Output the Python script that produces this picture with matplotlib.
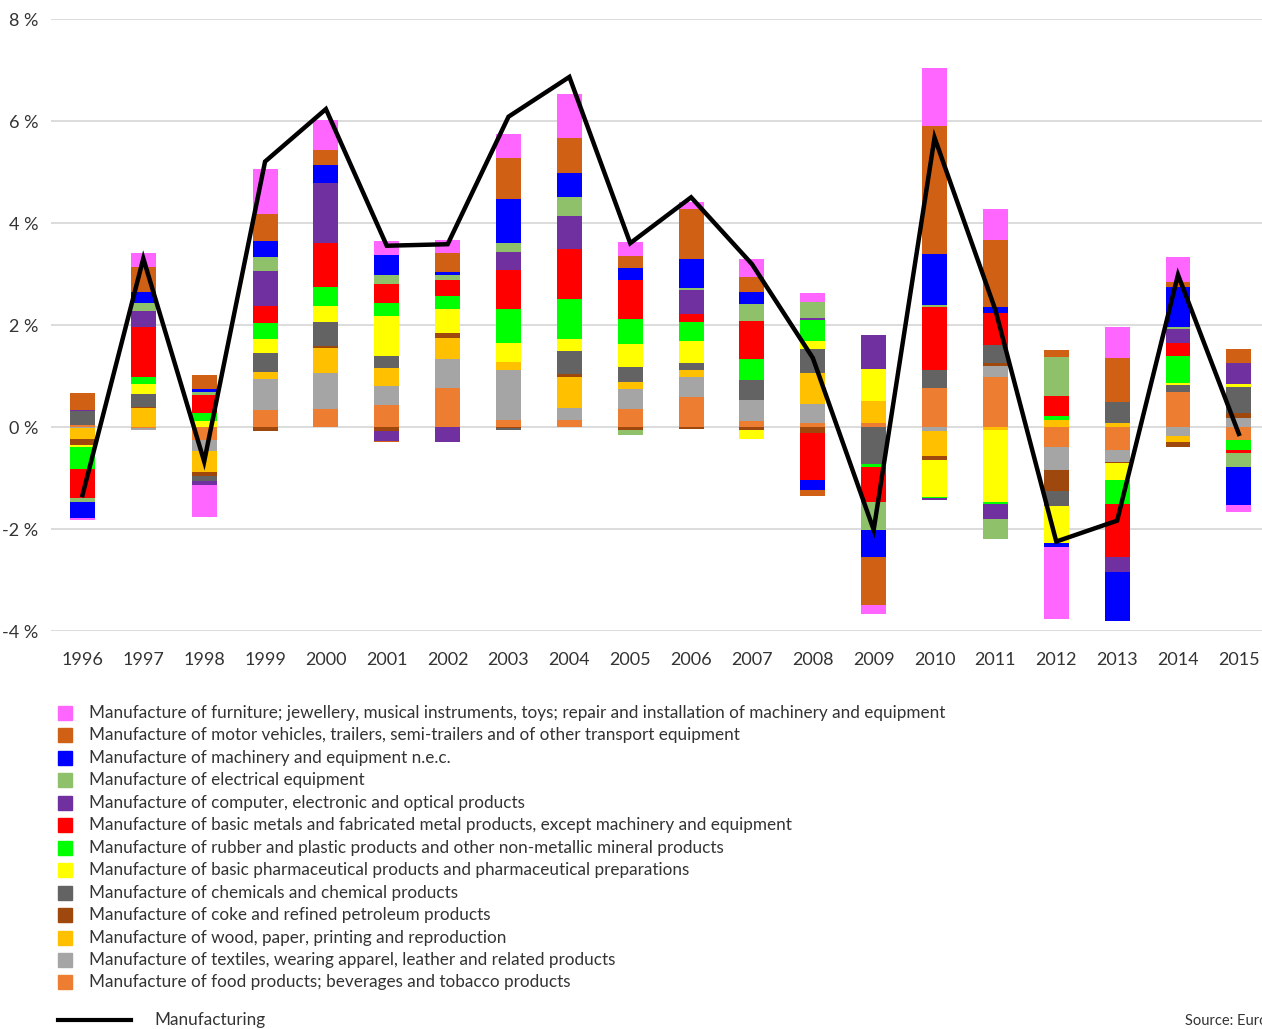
import matplotlib.pyplot as plt
import matplotlib.patches as mpatches
from matplotlib.lines import Line2D
import numpy as np

plt.rcParams['font.family'] = ['Lato', 'DejaVu Sans']

years = [str(y) for y in range(1996, 2016)]

# contributions to manufacturing growth, percentage points
food = [0.05, -0.02, -0.24, 0.34, 0.35, 0.44, 0.78, 0.14, 0.14, 0.35,
        0.59, 0.12, 0.09, 0.09, 0.77, 0.99, -0.39, -0.44, 0.70, -0.25]
textiles = [-0.02, -0.03, -0.23, 0.61, 0.71, 0.37, 0.56, 0.98, 0.24, 0.40,
            0.40, 0.42, 0.37, 0.00, -0.07, 0.22, -0.44, -0.24, -0.18, 0.18]
wood = [-0.20, 0.37, -0.41, 0.13, 0.50, 0.35, 0.41, 0.16, 0.61, 0.14,
        0.13, 0.00, 0.61, 0.43, -0.50, -0.06, 0.14, 0.08, -0.10, 0.00]
coke = [-0.12, 0.02, -0.07, -0.08, 0.04, -0.08, 0.10, -0.02, 0.05, -0.05,
        -0.03, -0.06, -0.12, 0.00, -0.07, 0.05, -0.41, -0.02, -0.11, 0.10]
chemicals = [0.27, 0.26, -0.10, 0.37, 0.46, 0.23, 0.00, -0.04, 0.46, 0.29,
             0.14, 0.39, 0.46, -0.71, 0.36, 0.35, -0.31, 0.42, 0.13, 0.52]
pharma = [-0.05, 0.19, 0.12, 0.29, 0.32, 0.80, 0.46, 0.37, 0.24, 0.46,
          0.44, -0.16, 0.16, 0.63, -0.72, -1.41, -0.72, -0.34, 0.03, 0.05]
rubber = [-0.42, 0.14, 0.16, 0.31, 0.38, 0.24, 0.27, 0.67, 0.77, 0.48,
          0.37, 0.40, 0.41, -0.07, -0.03, -0.03, 0.08, -0.46, 0.54, -0.20]
metals = [-0.58, 0.98, 0.36, 0.33, 0.85, 0.38, 0.31, 0.77, 0.98, 0.77,
          0.16, 0.76, -0.92, -0.68, 1.22, 0.64, 0.40, -1.04, 0.25, -0.05]
computer = [0.02, 0.32, -0.08, 0.69, 1.19, -0.18, -0.28, 0.35, 0.65, 0.00,
            0.46, 0.00, 0.04, 0.66, -0.04, -0.30, 0.00, -0.29, 0.27, 0.42]
electrical = [-0.08, 0.15, 0.05, 0.27, 0.00, 0.18, 0.10, 0.18, 0.37, -0.10,
              0.05, 0.33, 0.31, -0.55, 0.04, -0.39, 0.75, 0.00, 0.05, -0.27]
machinery = [-0.31, 0.23, 0.07, 0.31, 0.35, 0.38, 0.05, 0.86, 0.48, 0.24,
             0.56, 0.24, -0.18, -0.54, 1.00, 0.10, -0.08, -0.96, 0.78, -0.75]
motor = [0.33, 0.49, 0.27, 0.54, 0.29, -0.02, 0.37, 0.80, 0.69, 0.23,
         0.98, 0.29, -0.13, -0.94, 2.52, 1.33, 0.14, 0.85, 0.10, 0.26]
furniture = [-0.03, 0.27, -0.63, 0.88, 0.58, 0.29, 0.26, 0.48, 0.85, 0.27,
             0.14, 0.35, 0.18, -0.18, 1.14, 0.61, -1.41, 0.61, 0.48, -0.15]

manufacturing = [-1.33, 3.31, -0.67, 5.21, 6.24, 3.56, 3.59, 6.09, 6.87, 3.61,
                 4.51, 3.2, 1.36, -2.01, 5.68, 2.3, -2.24, -1.83, 2.99, -0.13]

# stacking order from the zero line outwards
series = [
    (food, '#ED7D31', 'Manufacture of food products; beverages and tobacco products'),
    (textiles, '#A5A5A5', 'Manufacture of textiles, wearing apparel, leather and related products'),
    (wood, '#FFC000', 'Manufacture of wood, paper, printing and reproduction'),
    (coke, '#9E480E', 'Manufacture of coke and refined petroleum products'),
    (chemicals, '#636363', 'Manufacture of chemicals and chemical products'),
    (pharma, '#FFFF00', 'Manufacture of basic pharmaceutical products and pharmaceutical preparations'),
    (rubber, '#00FF00', 'Manufacture of rubber and plastic products and other non-metallic mineral products'),
    (metals, '#FF0000', 'Manufacture of basic metals and fabricated metal products, except machinery and equipment'),
    (computer, '#7030A0', 'Manufacture of computer, electronic and optical products'),
    (electrical, '#8FC16A', 'Manufacture of electrical equipment'),
    (machinery, '#0000FF', 'Manufacture of machinery and equipment n.e.c.'),
    (motor, '#D06014', 'Manufacture of motor vehicles, trailers, semi-trailers and of other transport equipment'),
    (furniture, '#FF66FF', 'Manufacture of furniture; jewellery, musical instruments, toys; repair and installation of machinery and equipment'),
]

W, H = 1262, 1029
fig = plt.figure(figsize=(W / 100, H / 100), dpi=100)
ax = fig.add_axes([51 / W, 1 - 631.3 / H, (W - 51) / W, (631.3 - 19.3) / H])

x = np.arange(len(years))
pos_base = np.zeros(len(years))
neg_base = np.zeros(len(years))
for vals, color, label in series:
    v = np.array(vals)
    bottom = np.where(v >= 0, pos_base, neg_base)
    ax.bar(x, v, width=0.41, bottom=bottom, color=color, label=label, zorder=2)
    pos_base += np.clip(v, 0, None)
    neg_base += np.clip(v, None, 0)

ax.plot(x, manufacturing, color='black', linewidth=3.2, zorder=3,
        solid_joinstyle='miter')

ax.set_xlim(-0.517, 19.38)
ax.set_ylim(-4, 8)
ax.set_yticks(np.arange(-4, 9, 2))
ax.set_yticklabels([f'{v} %' for v in range(-4, 9, 2)])
ax.set_xticks(x)
ax.set_xticklabels(years)
ax.yaxis.grid(True, color='#d9d9d9', linewidth=1.3, zorder=0)
ax.set_axisbelow(True)
for s in ax.spines.values():
    s.set_visible(False)
ax.tick_params(axis='both', length=0, labelsize=13, colors='#333333')
ax.tick_params(axis='x', pad=15)
ax.tick_params(axis='y', pad=9)

# legend, newest category on top
row0, step = 713, 22.45
for i, (vals, color, label) in enumerate(reversed(series)):
    yc = row0 + i * step
    fig.patches.append(mpatches.Rectangle((58 / W, 1 - (yc + 7) / H), 14 / W, 14 / H,
                                          transform=fig.transFigure, color=color))
    fig.text(89 / W, 1 - yc / H, label, fontsize=12.3, color='#333333', va='center')

fig.lines.append(Line2D([58 / W, 131 / W], [1 - 1020 / H, 1 - 1020 / H],
                        transform=fig.transFigure, color='black', linewidth=3))
fig.text(154 / W, 1 - 1020 / H, 'Manufacturing', fontsize=12.3, color='#333333', va='center')
fig.text(1185 / W, 1 - 1021 / H, 'Source: Eurostat', fontsize=10.5, color='#333333', va='center')

fig.savefig('out.png', dpi=100)
